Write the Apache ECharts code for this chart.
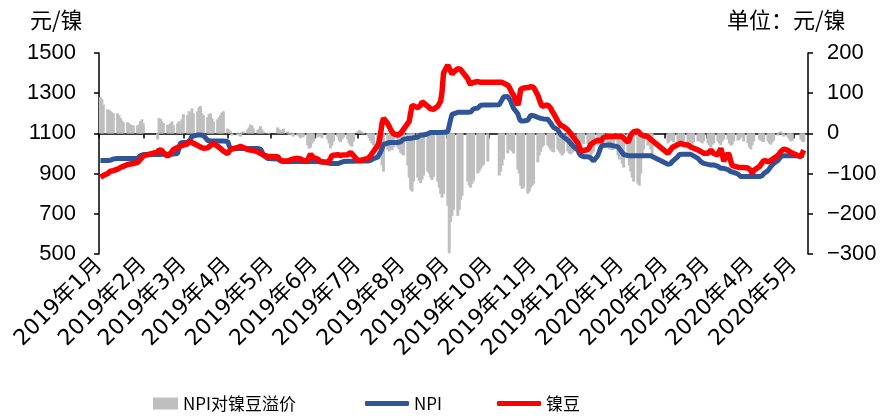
<!DOCTYPE html>
<html><head><meta charset="utf-8">
<script src="https://cdn.jsdelivr.net/npm/echarts@6/dist/echarts.min.js"></script>
<style>html,body{margin:0;padding:0;background:#fff}#c{width:883px;height:419px}</style>
</head><body><div id="c"></div>
<script>
// ---- data (one value per trading day, 2019-01-02 .. 2020-05-08) ----
const holidays = ['2019-01-01','2019-02-04','2019-02-05','2019-02-06','2019-02-07','2019-02-08','2019-04-05',
  '2019-05-01','2019-05-02','2019-05-03','2019-06-07','2019-09-13','2019-10-01','2019-10-02','2019-10-03',
  '2019-10-04','2019-10-07','2020-01-01','2020-01-24','2020-01-27','2020-01-28','2020-01-29','2020-01-30',
  '2020-01-31','2020-04-06','2020-05-01','2020-05-04','2020-05-05'];

const tickMonths = ['2019-01-01','2019-02-01','2019-03-01','2019-04-01','2019-05-01','2019-06-01','2019-07-01',
  '2019-08-01','2019-09-01','2019-10-01','2019-11-01','2019-12-01','2020-01-01','2020-02-01','2020-03-01',
  '2020-04-01','2020-05-01'];
const tickLabels = ['2019年1月','2019年2月','2019年3月','2019年4月','2019年5月','2019年6月','2019年7月',
  '2019年8月','2019年9月','2019年10月','2019年11月','2019年12月','2020年1月','2020年2月','2020年3月',
  '2020年4月','2020年5月'];

const npi = [
  965,965,965, 965,965,966,970,973, 975,975,975,975,975, 975,975,975,975,975, 975,982,990,994,995,
  995,995,995,996,996, 996,996,996,996,998, 1000,1030,1052,1055,1055,
  1055,1058,1070,1085,1090, 1092,1092,1092,1092,1090, 1065,1064,1063,1062,1062, 1062,1062,1062,1062,1062,
  1060,1040,1025,1025, 1025,1025,1025,1025,1025, 1025,1025,1025,1025,1025, 1025,1025,1022,1010,990, 975,972,
  972,970,965,962,960, 960,960,960,960,960, 960,960,960,960,960, 960,960,960,960,960,
  960,958,958,956, 955,952,950,950,950, 950,952,955,958,960, 962,962,962,962,962,
  963,963,963,963,963, 963,964,966,970,975, 982,995,1008,1025,1045, 1052,1054,1055,1055,1055,
  1055,1056,1058,1062,1070, 1075,1075,1075,1076,1078, 1082,1090,1092,1092,1092, 1098,1104,1105,1105,1105,
  1105,1105,1105,1105,1106,
  1108,1112,1170,1195,1200, 1205,1205,1205,1205, 1205,1205,1206,1212,1222, 1226,1232,1240,1241,1241, 1241,
  1242,1250,1268,1282, 1283,1283,1262,1241,1225, 1198,1175,1162,1162,1162, 1165,1178,1190,1192,1188,
  1180,1178,1175,1172,1172, 1170,1165,1152,1140,1130, 1117,1105,1095,1086,1082, 1066,1058,1050,1044,1035,
  1017,1000,990,985,984, 984,983,978,970,963, 990,1010,1030,1040,1042, 1042,1042,1042,1040,1038,
  1034,1025,1005,995,
  989,989,989,989,989, 989,989,989,989,989, 989,989,989,989,
  946,946,950,960,968, 985,995,996,996,996, 996,996,996,994,988, 976,968,960,955,951,
  946,943,943,943,943, 936,930,926,926,926, 920,914,910,906,906, 898,890,885,885,885,
  885,885,885,885,885, 885,886,890,900, 915,925,935,942,950, 965,975,985,989,989,
  989,989,989,989, 989,989,990
];

const bean = [
  882,886,890, 900,905,912,908,915, 922,926,930,933,936, 945,950,948,945,950, 956,962,972,980,988,
  1008,1018,1026,1015,1005, 986,992,1000,1010,1020, 1030,1034,1036,1038,1042,
  1048,1060,1067,1055,1046, 1040,1038,1032,1028,1026, 1028,1032,1040,1048,1050, 1036,1030,1025,1018,1012,
  1000,1010,1020,1026, 1030,1034,1035,1034,1030, 1020,1018,1017,1017,1015, 1008,1004,1000,996,993, 986,984,
  984,975,965,963,963, 963,965,968,970,973, 976,975,973,970,965, 963,985,996,990,980,
  972,965,960,955, 955,960,975,990,996, 994,992,990,989,993, 994,998,1005,1009,990,
  965,963,966,968,970, 974,980,990,1000,1010, 1040,1060,1100,1150,1175, 1148,1135,1120,1108,1098,
  1092,1095,1100,1110,1120, 1150,1160,1200,1240,1238, 1228,1225,1240,1258,1250, 1235,1228,1222,1216,1220,
  1235,1241,1260,1308,1400,
  1440,1435,1410,1395,1405, 1422,1425,1418,1408, 1372,1355,1342,1352,1360, 1358,1355,1354,1354,1354, 1354,
  1354,1354,1354,1352, 1340,1330,1315,1300,1290, 1241,1270,1320,1324,1326, 1328,1330,1332,1332,1330,
  1290,1270,1250,1235,1233, 1241,1235,1225,1210,1200, 1160,1150,1140,1135,1134, 1117,1110,1100,1092,1080,
  1052,1035,1009,1010,1015, 1020,1030,1045,1051,1055, 1067,1062,1062,1070,1080, 1084,1084,1084,1084,1084,
  1084,1084,1084,1080,
  1056,1070,1092,1100,1108, 1112,1105,1095,1090,1088, 1084,1078,1070,1067,
  1001,1010,1020,1030,1034, 1045,1051,1050,1048,1045, 1042,1038,1032,1028,1026, 1018,1015,1010,1005,1001,
  1001,1010,1017,1010,1000, 993,1010,1026,1000,962, 1001,990,960,940,935, 932,930,930,931,930,
  928,926,915,902,915, 935,945,955,965, 960,956,965,972,976, 990,1000,1010,1018,1022,
  1015,1009,1005,1002, 984,1000,1017
];

const premium = [
  90,85,72, 60,58,55,52,50, 50,45,38,32,28, 28,25,22,20,20, 20,22,30,35,25,
  -15,38,36,30,26, 22,20,25,30,20, 25,30,20,35,48,
  45,55,40,62,50, 55,65,68,50,45, 40,48,50,38,30, 35,40,45,52,55,
  12,8,5,-5, -5,2,-8,3,5, 10,15,22,20,12, 8,12,18,10,5, 2,-2,
  15,10,8,5,12, 5,-3,2,-5,-8, -5,-8,-12,-10,-8, -30,-38,-35,-25,-20,
  -10,-5,-8,-12, -15,-25,-37,-30,-20, -8,-18,-22,-15,-10, -15,-25,-30,-33,-20,
  5,8,6,3,-2, -5,-12,-18,-25,-30, -35,-40,-55,-80,-95, -40,-45,-38,-42,-35,
  -35,-40,-48,-52,-55, -80,-110,-140,-145,-120, -110,-118,-124,-115,-105, -95,-100,-110,-116,-108,
  -120,-135,-150,-160,-150,
  -180,-298,-220,-205,-190, -205,-190,-165,-155, -120,-130,-135,-125,-118, -100,-95,-88,-82,-78, -70,
  -105,-95,-80,-65, -50,-40,-40,-45,-50, -90,-100,-130,-138,-135, -150,-145,-135,-130,-125,
  -72,-55,-45,-35,-30, -30,-35,-40,-45,-47, -40,-45,-50,-55,-50, -45,-50,-52,-48,-45,
  -30,-25,-18,-22,-27, -27,-40,-55,-50,-45, -30,-25,-22,-28,-30, -35,-40,-38,-42,-40,
  -55,-65,-75,-85,
  -60,-80,-95,-110,-120, -125,-130,-100,-60,-40, -30,-25,-40,-55,
  -25,-20,-15,-18,-22, -20,-22,-25,-18,-20, -25,-30,-35,-28,-22, -20,-18,-22,-25,-20,
  -25,-30,-35,-28,-25, -20,-25,-30,-20,-15, -15,-25,-30,-28,-20, -18,-15,-10,-8,-20,
  -25,-35,-40,-30,-20, -15,-18,-20,-22, -20,-25,-28,-22,-18, -5,3,5,-3,-8,
  -10,-15,-20,-18, -15,-20,-22
];

// ---- calendar-day category axis ----
const days = [];
const tradeIdx = [];
for (let t = Date.UTC(2019,0,1); t <= Date.UTC(2020,4,11); t += 86400000) {
  const d = new Date(t);
  const s = d.toISOString().slice(0,10);
  days.push(s);
  const wd = d.getUTCDay();
  if (wd !== 0 && wd !== 6 && holidays.indexOf(s) < 0) tradeIdx.push(days.length - 1);
}
function place(arr){
  const out = new Array(days.length).fill(null);
  tradeIdx.forEach((di,k)=>{ if (k < arr.length) out[di] = arr[k]; });
  return out;
}
const npiData = place(npi), beanData = place(bean), premData = place(premium);
const isTick = (i, v) => tickMonths.indexOf(v) >= 0;

const CJK = "'Noto Sans CJK SC', sans-serif";
const NUM = "'Liberation Sans', Arial, sans-serif";
const chart = echarts.init(document.getElementById('c'), null, {renderer:'canvas'});
chart.setOption({
  animation: false,
  backgroundColor: '#fff',
  grid: {left: 99, right: 75, top: 53, bottom: 165, containLabel: false},
  xAxis: {
    type: 'category', data: days, boundaryGap: false,
    axisLine: {lineStyle: {color: '#000', width: 1.5}},
    axisTick: {interval: isTick, length: 5, lineStyle: {color: '#000', width: 1.5}},
    axisLabel: {interval: isTick, rotate: 45, margin: 8, color: '#000', fontSize: 22,
      fontFamily: "'DejaVu Sans', 'Noto Sans CJK SC', sans-serif",
      formatter: v => { const k = tickMonths.indexOf(v); return k >= 0 ? tickLabels[k] : ''; }},
    splitLine: {show: false}
  },
  yAxis: [
    {type: 'value', min: 500, max: 1500, interval: 200,
     axisLine: {show: true, lineStyle: {color: '#000', width: 1.5}},
     axisTick: {show: true, length: 5, lineStyle: {color: '#000', width: 1.5}},
     axisLabel: {color: '#000', fontSize: 22, margin: 23, fontFamily: NUM, formatter: v => String(v)},
     splitLine: {show: false}},
    {type: 'value', min: -300, max: 200, interval: 100, position: 'right',
     axisLine: {show: true, lineStyle: {color: '#000', width: 1.5}},
     axisTick: {show: true, length: 5, lineStyle: {color: '#000', width: 1.5}},
     axisLabel: {color: '#000', fontSize: 22, margin: 19, fontFamily: NUM,
       formatter: v => v < 0 ? '\u2212' + Math.abs(v) : String(v)},
     splitLine: {show: false}}
  ],
  legend: [
    {data: [{name: 'NPI对镍豆溢价', icon: 'rect'}], left: 148, top: 390, itemWidth: 25, itemHeight: 12,
     textStyle: {fontSize: 17, color: '#000', fontFamily: CJK}, itemGap: 6},
    {data: [{name: 'NPI', icon: 'roundRect'}, {name: '镍豆', icon: 'roundRect'}], left: 360, top: 390,
     itemWidth: 44, itemHeight: 5, itemGap: 55,
     textStyle: {fontSize: 17, color: '#000', fontFamily: CJK}}
  ],
  graphic: [
    {type: 'text', x: 30, y: 9, style: {text: '元/镍', fontSize: 22, fontFamily: CJK, fill: '#000'}},
    {type: 'text', x: 727, y: 9, style: {text: '单位：元/镍', fontSize: 22, fontFamily: CJK, fill: '#000'}}
  ],
  series: [
    {name: 'NPI对镍豆溢价', type: 'bar', yAxisIndex: 1, data: premData, barWidth: 3, barMaxWidth: 3,
     large: false, itemStyle: {color: '#BFBFBF'}, silent: true},
    {name: 'NPI', type: 'line', yAxisIndex: 0, data: npiData, connectNulls: true, symbol: 'none',
     lineStyle: {color: '#2F5597', width: 5}, itemStyle: {color: '#2F5597'}},
    {name: '镍豆', type: 'line', yAxisIndex: 0, data: beanData, connectNulls: true, symbol: 'none',
     lineStyle: {color: '#FF0000', width: 5.5}, itemStyle: {color: '#FF0000'}}
  ]
});
</script></body></html>
